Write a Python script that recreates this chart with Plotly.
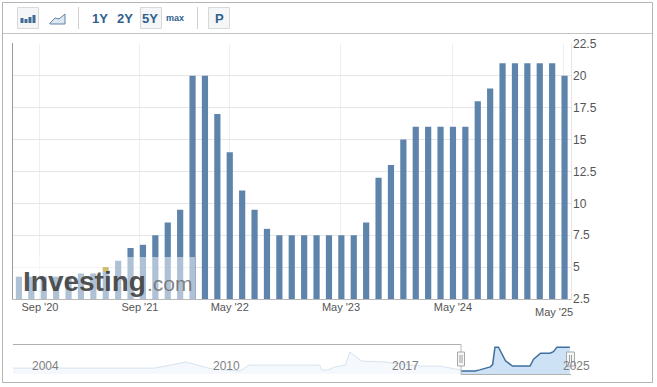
import plotly.graph_objects as go

W, H = 657, 387

# Main chart data
bar_pos = list(range(45))
bar_values = [4.25, 4.25, 4.25, 4.25, 4.25, 4.5, 4.5, 5, 5.5, 6.5, 6.75, 7.5, 8.5, 9.5,
              20, 20, 17, 14, 11, 9.5, 8, 7.5, 7.5, 7.5, 7.5, 7.5, 7.5, 7.5, 8.5, 12, 13, 15,
              16, 16, 16, 16, 16, 18, 19, 21, 21, 21, 21, 21, 20]
x_tick_pos = [1.69, 9.76, 17.0, 25.97, 35.0, 43.95]
x_tick_labels = ["Sep '20", "Sep '21", "May '22", "May '23", "May '24", ""]
last_label = "May '25"
y_ticks = [2.5, 5, 7.5, 10, 12.5, 15, 17.5, 20, 22.5]
y_tick_labels = ["2.5", "5", "7.5", "10", "12.5", "15", "17.5", "20", "22.5"]

# Navigator data
nav_years = [2001.55, 2007.6, 2008.95, 2010.05, 2011.25, 2011.65, 2014.65, 2014.75, 2015.0,
             2015.3, 2015.75, 2015.95, 2016.45, 2017.45, 2018.95, 2019.8, 2020.7]
nav_values = [6.2, 6.2, 10.2, 5.6, 4.25, 8.2, 8.2, 5.0, 4.9, 6.9, 8.2, 16.75, 10.8, 10.2, 7.5, 7.5, 4.9]
sel_years = [2020.7, 2021.3, 2021.5, 2021.95, 2022.05, 2022.15, 2022.3, 2022.6, 2022.9, 2023.2,
             2023.65, 2023.8, 2024.1, 2024.5, 2024.65, 2024.8, 2025.35]
sel_values = [4.25, 4.25, 5.0, 7.0, 8.5, 20, 20, 11, 7.5, 7.5, 7.5, 12, 16, 16, 17, 20, 20]
nav_labels = ["2004", "2010", "2017", "2025"]
nav_label_px = [45, 226, 405, 576]

BAR = "#5f84ab"
GRID = "#e6e6e6"
TXT = "#555555"
BLUE = "#2f5f8f"
FONT = "Liberation Sans"

fig = go.Figure()
fig.add_trace(go.Bar(x=bar_pos, y=bar_values, width=0.5, marker=dict(color=BAR, line=dict(width=0)),
                     xaxis="x", yaxis="y", showlegend=False))
fig.add_trace(go.Scatter(x=nav_years, y=nav_values, mode="lines", line=dict(color="#d6e4ef", width=1),
                         fill="tozeroy", fillcolor="rgba(225,236,246,0.35)", xaxis="x2", yaxis="y2",
                         showlegend=False))
fig.add_trace(go.Scatter(x=sel_years, y=sel_values, mode="lines", line=dict(color="#3f6f9f", width=1.5),
                         fill="tozeroy", fillcolor="rgba(180,210,240,0.65)", xaxis="x2", yaxis="y2",
                         showlegend=False))
fig.add_trace(go.Scatter(x=[None], y=[None], mode="lines", xaxis="x3", yaxis="y3", showlegend=False))

def dom(a, b, total):
    return [a / total, b / total]

def ydom(top, bottom):
    return [1 - bottom / H, 1 - top / H]

shapes = []
def rect(x0, y0, x1, y1, line=None, fill=None, lw=1, layer="above"):
    shapes.append(dict(type="rect", xref="x3", yref="y3", x0=x0, y0=y0, x1=x1, y1=y1, layer=layer,
                       line=dict(color=line or "rgba(0,0,0,0)", width=lw if line else 0),
                       fillcolor=fill or "rgba(0,0,0,0)"))
def seg(x0, y0, x1, y1, color, lw=1):
    shapes.append(dict(type="line", xref="x3", yref="y3", x0=x0, y0=y0, x1=x1, y1=y1, layer="above",
                       line=dict(color=color, width=lw)))

# frame + toolbar
rect(2.5, 2.5, 652.5, 382.5, line="#b4b4b4")
seg(3, 33.5, 652, 33.5, "#c4c4c4")
seg(78.5, 7, 78.5, 29, "#d0d0d0")
seg(197.5, 7, 197.5, 29, "#d0d0d0")
rect(17.5, 7.5, 38.5, 28.5, line="#d8d8d8", fill="#f5f6f8")
rect(140.5, 7.5, 161.5, 28.5, line="#d8d8d8", fill="#f5f6f8")
rect(208.5, 7.5, 229.5, 28.5, line="#d8d8d8", fill="#f5f6f8")
for bx, bt in [(20.5, 18), (24.5, 19), (28.5, 17), (32.5, 15)]:
    rect(bx, bt, bx + 3, 23, fill="#3f6a94")
shapes.append(dict(type="path", xref="x3", yref="y3", layer="above",
                   path="M50,23 L55,18 L59,19 L65,14 L65,24 L50,24 Z",
                   fillcolor="#dde7ef", line=dict(color="#5f84ab", width=1)))

# axes frame
seg(12.5, 43, 12.5, 299.5, "#9a9a9a")
seg(12.5, 299.5, 572, 299.5, "#b8b8b8")
seg(571.5, 43, 571.5, 299.5, "#e6e6e6")

# watermark veil
rect(13, 257, 195, 299, fill="rgba(255,255,255,0.5)")
rect(103, 267, 108, 272, fill="rgba(214,190,90,0.9)")

# navigator frame
seg(13, 344.5, 461, 344.5, "#b0b0b0")
seg(461, 344.5, 461, 374.5, "#b8b8b8")
seg(461, 374.5, 571, 374.5, "#b0b0b0")
rect(457.5, 352, 464.5, 366, line="#a8a8a8", fill="#f6f6f6")
rect(566.5, 352, 574.5, 366, line="#a8a8a8", fill="#f6f6f6")
for hx in (460, 462):
    seg(hx, 355, hx, 363, "#a0a0a0")
for hx in (569.5, 571.5):
    seg(hx, 355, hx, 363, "#a0a0a0")

def px_note(x, y, text, size=11, color=TXT, bold=False, anchor="center"):
    return dict(xref="x3", yref="y3", x=x, y=y, text=f"<b>{text}</b>" if bold else text, showarrow=False,
                xanchor=anchor, yanchor="middle", font=dict(family=FONT, size=size, color=color))

notes = [
    px_note(100, 18, "1Y", 13, BLUE, True),
    px_note(125, 18, "2Y", 13, BLUE, True),
    px_note(150, 18, "5Y", 13, BLUE, True),
    px_note(175, 18, "max", 9, BLUE, True),
    px_note(219, 18, "P", 13, BLUE, True),
    px_note(554, 312, last_label),
    px_note(21, 281, "Investing", 28, "rgba(60,60,60,0.9)", True, "left"),
    px_note(145, 283, ".com", 21, "rgba(110,110,110,0.85)", False, "left"),
]
for lab, px in zip(nav_labels, nav_label_px):
    notes.append(px_note(px, 366, lab, 12, "#808080"))

fig.update_layout(
    width=W, height=H, autosize=False, margin=dict(l=0, r=0, t=0, b=0, autoexpand=False),
    paper_bgcolor="white", plot_bgcolor="rgba(0,0,0,0)", bargap=0.5, showlegend=False,
    font=dict(family=FONT, size=11, color=TXT),
    xaxis=dict(domain=dom(13, 572, W), range=[-0.48, 44.6], tickmode="array", tickvals=x_tick_pos,
               ticktext=x_tick_labels, showgrid=True, gridcolor="#eeeeee", zeroline=False, ticks="",
               anchor="y", automargin=False, tickfont=dict(family=FONT, size=11, color=TXT)),
    yaxis=dict(domain=ydom(44, 299), range=[2.5, 22.5], side="right", tickmode="array", tickvals=y_ticks,
               ticktext=y_tick_labels, showgrid=True, gridcolor=GRID, zeroline=False, ticks="",
               anchor="x", automargin=False, tickfont=dict(family=FONT, size=12, color=TXT)),
    xaxis2=dict(domain=dom(13, 571, W), range=[2001.55, 2025.4], visible=False, anchor="y2", automargin=False),
    yaxis2=dict(domain=ydom(345, 374), range=[2.3, 21.4], visible=False, anchor="x2", automargin=False),
    xaxis3=dict(domain=[0, 1], range=[0, W], visible=False, anchor="y3", fixedrange=True, automargin=False),
    yaxis3=dict(domain=[0, 1], range=[H, 0], visible=False, anchor="x3", fixedrange=True, automargin=False),
    shapes=shapes, annotations=notes,
)

fig.write_html("out.html", config=dict(displayModeBar=False),
               post_script="document.body.style.margin='0';")
